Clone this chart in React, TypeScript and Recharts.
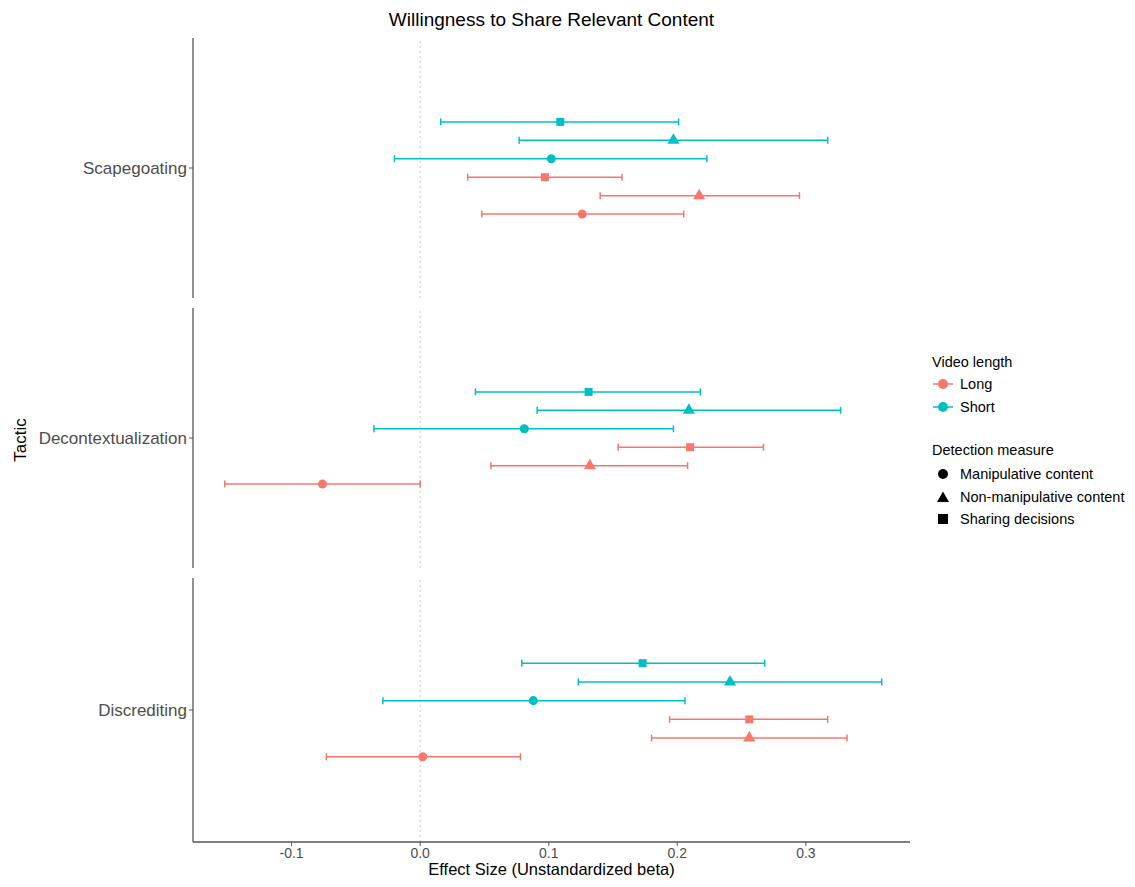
import React from 'react';
import { ScatterChart, Scatter, XAxis, YAxis, ZAxis, ErrorBar, ReferenceLine } from 'recharts';

const tactics = ['Scapegoating', 'Decontextualization', 'Discrediting'];

// rows from top to bottom within each panel
const rowLength = ['Short', 'Short', 'Short', 'Long', 'Long', 'Long'];
const rowMeasure = [
  'Sharing decisions',
  'Non-manipulative content',
  'Manipulative content',
  'Sharing decisions',
  'Non-manipulative content',
  'Manipulative content',
];

const scapegoatingEst = [0.109, 0.197, 0.102, 0.097, 0.217, 0.126];
const scapegoatingLow = [0.016, 0.077, -0.02, 0.037, 0.14, 0.048];
const scapegoatingHigh = [0.201, 0.317, 0.223, 0.157, 0.295, 0.205];

const decontextEst = [0.131, 0.209, 0.081, 0.21, 0.132, -0.076];
const decontextLow = [0.043, 0.091, -0.036, 0.154, 0.055, -0.152];
const decontextHigh = [0.218, 0.327, 0.197, 0.267, 0.208, 0.0];

const discreditingEst = [0.173, 0.241, 0.088, 0.256, 0.256, 0.002];
const discreditingLow = [0.079, 0.123, -0.029, 0.194, 0.18, -0.073];
const discreditingHigh = [0.268, 0.359, 0.206, 0.317, 0.332, 0.078];

const xTicks = [-0.1, 0, 0.1, 0.2, 0.3];

const lengthColors: Record<string, string> = { Long: '#F8766D', Short: '#00BFC4' };
const measureShapes: Record<string, 'circle' | 'triangle' | 'square'> = {
  'Manipulative content': 'circle',
  'Non-manipulative content': 'triangle',
  'Sharing decisions': 'square',
};

const panelValues = [
  [scapegoatingEst, scapegoatingLow, scapegoatingHigh],
  [decontextEst, decontextLow, decontextHigh],
  [discreditingEst, discreditingLow, discreditingHigh],
];

const FONT = '"Liberation Sans", Arial, Helvetica, sans-serif';
const AXIS = '#555555';
const X_DOMAIN = [-0.1767, 0.381];
const Y_DOMAIN = [-7.05, 7.05];

const buildRows = (p: number) => {
  const [est, lo, hi] = panelValues[p];
  return rowLength.map((len, i) => ({
    x: est[i],
    y: 2.5 - i,
    err: [est[i] - lo[i], hi[i] - est[i]],
    length: len,
    measure: rowMeasure[i],
  }));
};

const Panel = ({ index, top, height, bottom }: { index: number; top: number; height: number; bottom: boolean }) => {
  const rows = buildRows(index);
  const xh = 24;
  return (
    <div style={{ position: 'absolute', left: 0, top }}>
      <ScatterChart width={910} height={height + (bottom ? xh : 0)} margin={{ top: 0, right: 8, bottom: 0, left: 0 }}>
        <XAxis
          type="number"
          dataKey="x"
          domain={X_DOMAIN}
          ticks={xTicks}
          allowDataOverflow
          hide={!bottom}
          height={xh}
          tickFormatter={(v: number) => v.toFixed(1)}
          tick={{ fill: '#4d4d4d', fontSize: 14, fontFamily: FONT }}
          tickSize={4}
          tickMargin={2}
          axisLine={{ stroke: AXIS, strokeWidth: 1.3 }}
          tickLine={{ stroke: AXIS }}
        />
        <YAxis
          type="number"
          dataKey="y"
          domain={Y_DOMAIN}
          ticks={[0]}
          width={185}
          tickFormatter={() => tactics[index]}
          tick={{ fill: '#4d4d4d', fontSize: 17, fontFamily: FONT }}
          tickSize={4}
          tickMargin={2}
          axisLine={{ stroke: AXIS, strokeWidth: 1.3 }}
          tickLine={{ stroke: AXIS }}
        />
        <ZAxis range={[70, 70]} />
        <ReferenceLine x={0} stroke="#c8c8c8" strokeDasharray="2 3" />
        {rows.map((r, i) => (
          <Scatter
            key={i}
            data={[r]}
            fill={lengthColors[r.length]}
            shape={measureShapes[r.measure]}
            isAnimationActive={false}
          >
            <ErrorBar dataKey="err" direction="x" width={3.5} stroke={lengthColors[r.length]} strokeWidth={1.5} />
          </Scatter>
        ))}
      </ScatterChart>
    </div>
  );
};

const LegendShape = ({ shape }: { shape: string }) => (
  <svg width={22} height={14} style={{ marginRight: 6, flexShrink: 0 }}>
    {shape === 'circle' && <circle cx={11} cy={7} r={5} fill="#000" />}
    {shape === 'triangle' && <polygon points="11,1.5 17,12 5,12" fill="#000" />}
    {shape === 'square' && <rect x={6} y={2} width={10} height={10} fill="#000" />}
  </svg>
);

export default function App() {
  const lengths = ['Long', 'Short'];
  const measures = ['Manipulative content', 'Non-manipulative content', 'Sharing decisions'];
  return (
    <div style={{ position: 'relative', width: 1119, height: 871, background: '#fff', fontFamily: FONT }}>
      <div style={{ position: 'absolute', left: 185, width: 717, top: 1, textAlign: 'center', fontSize: 19, color: '#000' }}>
        Willingness to Share Relevant Content
      </div>
      <div
        style={{
          position: 'absolute',
          left: 13,
          top: 432,
          transform: 'translate(-50%, -50%) rotate(-90deg)',
          fontSize: 17,
          color: '#000',
        }}
      >
        Tactic
      </div>
      <Panel index={0} top={30} height={260} bottom={false} />
      <Panel index={1} top={300} height={260} bottom={false} />
      <Panel index={2} top={570} height={264} bottom={true} />
      <div
        style={{
          position: 'absolute',
          left: 185,
          width: 717,
          top: 852,
          lineHeight: '18px',
          textAlign: 'center',
          fontSize: 16.5,
          color: '#000',
        }}
      >
        Effect Size (Unstandardized beta)
      </div>
      <div style={{ position: 'absolute', left: 924, top: 346, fontSize: 14.5, color: '#000', whiteSpace: 'nowrap' }}>
        <div style={{ marginBottom: 2 }}>Video length</div>
        {lengths.map((l) => (
          <div key={l} style={{ display: 'flex', alignItems: 'center', height: 23 }}>
            <svg width={22} height={14} style={{ marginRight: 6, flexShrink: 0 }}>
              <line x1={1} y1={7} x2={21} y2={7} stroke={lengthColors[l]} strokeWidth={1.5} />
              <circle cx={11} cy={7} r={5} fill={lengthColors[l]} />
            </svg>
            {l}
          </div>
        ))}
        <div style={{ marginTop: 24, marginBottom: 5 }}>Detection measure</div>
        {measures.map((m) => (
          <div key={m} style={{ display: 'flex', alignItems: 'center', height: 22.5 }}>
            <LegendShape shape={measureShapes[m]} />
            {m}
          </div>
        ))}
      </div>
    </div>
  );
}
